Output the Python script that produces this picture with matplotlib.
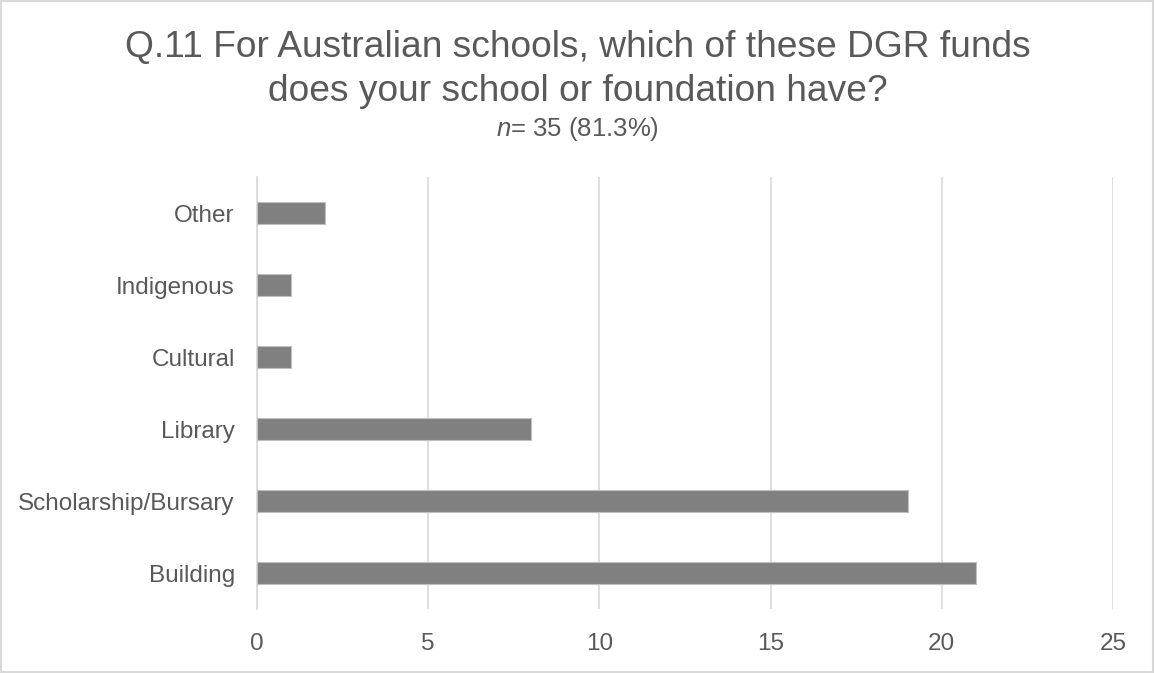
import numpy as np
import matplotlib.pyplot as plt
from matplotlib.patches import Rectangle

plt.rcParams['font.family'] = ['Liberation Sans', 'DejaVu Sans']
plt.rcParams['mathtext.fontset'] = 'custom'
plt.rcParams['mathtext.it'] = 'Liberation Sans:italic'
plt.rcParams['mathtext.rm'] = 'Liberation Sans'

# DGR fund types, bottom to top
funds = ['Building', 'Scholarship/Bursary', 'Library', 'Cultural', 'Indigenous', 'Other']
counts = [21, 19, 8, 1, 1, 2]
xticks = [0, 5, 10, 15, 20, 25]

title = 'Q.11 For Australian schools, which of these DGR funds\ndoes your school or foundation have?'
subtitle = r'$\mathit{n}$= 35 (81.3%)'

txt = '#595959'
grid = '#d9d9d9'

fig = plt.figure(figsize=(11.55, 6.73), dpi=100)
ax = fig.add_axes([0.2225, 0.095, 0.7411, 0.642])

y = np.arange(len(funds))
ax.barh(y, counts, height=0.31, color='#808080', edgecolor='#bfbfbf', linewidth=0.8, zorder=3)

ax.set_xlim(0, 25)
ax.set_ylim(-0.5, len(funds) - 0.5)
ax.set_xticks(xticks)
ax.set_yticks(y)
ax.set_yticklabels(funds)
ax.tick_params(axis='both', length=0, labelsize=17.5, colors=txt)
ax.tick_params(axis='y', pad=16)
ax.tick_params(axis='x', pad=17)
ax.xaxis.grid(True, color=grid, linewidth=1.2, zorder=0)
for s in ['top', 'right', 'bottom']:
    ax.spines[s].set_visible(False)
ax.spines['left'].set_color(grid)
ax.spines['left'].set_linewidth(1.2)

fig.text(0.5, 0.955, title, ha='center', va='top', fontsize=26.7, color=txt, linespacing=1.33)
fig.text(0.5, 0.787, subtitle, ha='center', va='bottom', fontsize=18.5, color=txt)

# light frame around the whole chart
fig.patches.append(Rectangle((0.001, 0.002), 0.997, 0.996, transform=fig.transFigure,
                             fill=False, edgecolor=grid, linewidth=1.5))

fig.savefig('out.png', dpi=100, facecolor='white')
